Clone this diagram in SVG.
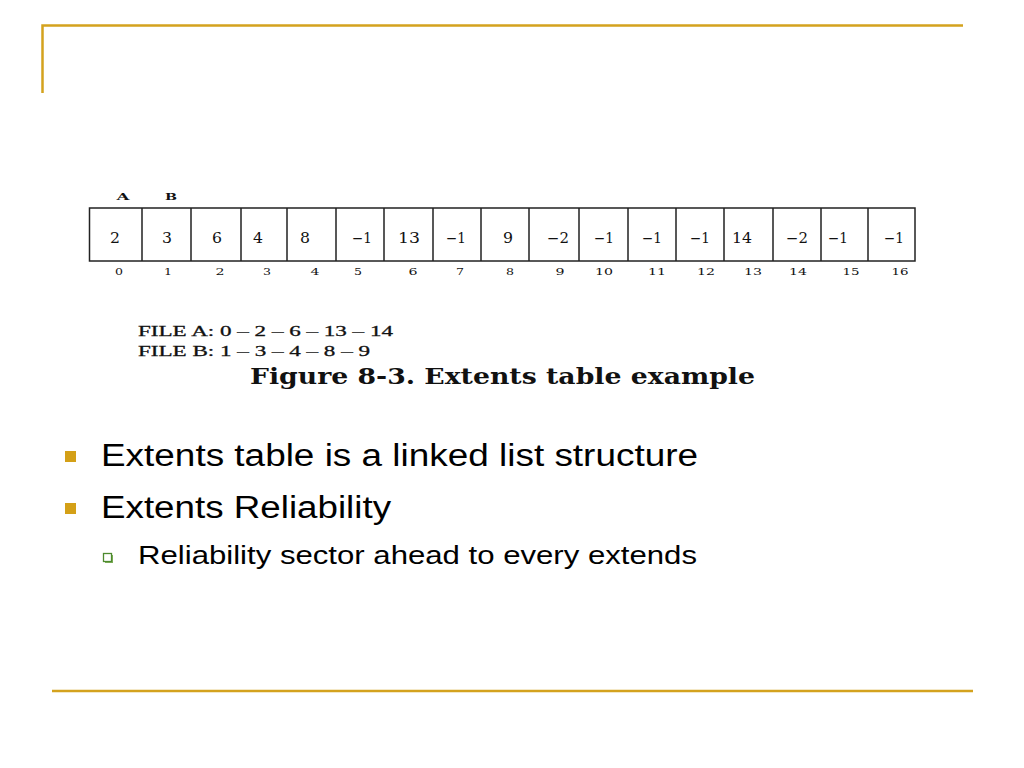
<svg xmlns="http://www.w3.org/2000/svg" width="1024" height="768" viewBox="0 0 1024 768">
<style>
.rule{stroke:#D4A21E;stroke-width:2.5;fill:none}
.cell{fill:#fff;stroke:#222;stroke-width:1.5}
.v{font-family:"DejaVu Serif","Liberation Serif",serif;font-size:14px;fill:#111;text-anchor:middle}
.i{font-family:"DejaVu Serif","Liberation Serif",serif;font-size:10px;fill:#111;text-anchor:middle}
.cap{font-family:"Liberation Serif",serif;font-size:15px;fill:#111;stroke:#111;stroke-width:0.3}
.fig{font-family:"DejaVu Serif","Liberation Serif",serif;font-size:23px;font-weight:bold;fill:#111}
.b1{font-family:"Liberation Sans",Arial,sans-serif;font-size:31px;fill:#000}
.b2{font-family:"Liberation Sans",Arial,sans-serif;font-size:26px;fill:#000}
.sq{fill:#D4A017}
</style>
<g id="frame">
<path class="rule" d="M42.5,93 V25.5 H963"/>
<line class="rule" x1="52" y1="691" x2="973" y2="691"/>
</g>
<g id="table">
<rect class="cell" x="89.5" y="208" width="825.5" height="53"/>
<path stroke="#222" stroke-width="1.5" fill="none" d="M142,208V261M191,208V261M241,208V261M287,208V261M336,208V261M384,208V261M433,208V261M481,208V261M529,208V261M579,208V261M628,208V261M676,208V261M724,208V261M773,208V261M821,208V261M868,208V261"/>
<text class="i" x="123" y="200" font-size="11" font-weight="bold" textLength="13" lengthAdjust="spacingAndGlyphs">A</text>
<text class="i" x="171" y="200" font-size="11" font-weight="bold" textLength="12" lengthAdjust="spacingAndGlyphs">B</text>
<g class="v">
<text x="115" y="243" textLength="10" lengthAdjust="spacingAndGlyphs">2</text>
<text x="167" y="243" textLength="10" lengthAdjust="spacingAndGlyphs">3</text>
<text x="217" y="243" textLength="10" lengthAdjust="spacingAndGlyphs">6</text>
<text x="258" y="243" textLength="10" lengthAdjust="spacingAndGlyphs">4</text>
<text x="305" y="243" textLength="10" lengthAdjust="spacingAndGlyphs">8</text>
<text x="362" y="243" textLength="20" lengthAdjust="spacingAndGlyphs">−1</text>
<text x="409" y="243" textLength="22" lengthAdjust="spacingAndGlyphs">13</text>
<text x="456" y="243" textLength="20" lengthAdjust="spacingAndGlyphs">−1</text>
<text x="508" y="243" textLength="10" lengthAdjust="spacingAndGlyphs">9</text>
<text x="558" y="243" textLength="22" lengthAdjust="spacingAndGlyphs">−2</text>
<text x="604" y="243" textLength="20" lengthAdjust="spacingAndGlyphs">−1</text>
<text x="652" y="243" textLength="20" lengthAdjust="spacingAndGlyphs">−1</text>
<text x="700" y="243" textLength="20" lengthAdjust="spacingAndGlyphs">−1</text>
<text x="742" y="243" textLength="20" lengthAdjust="spacingAndGlyphs">14</text>
<text x="797" y="243" textLength="22" lengthAdjust="spacingAndGlyphs">−2</text>
<text x="838" y="243" textLength="20" lengthAdjust="spacingAndGlyphs">−1</text>
<text x="894" y="243" textLength="20" lengthAdjust="spacingAndGlyphs">−1</text>
</g>
<g class="i">
<text x="119" y="275" textLength="8" lengthAdjust="spacingAndGlyphs">0</text>
<text x="168" y="275" textLength="8" lengthAdjust="spacingAndGlyphs">1</text>
<text x="220" y="275" textLength="9" lengthAdjust="spacingAndGlyphs">2</text>
<text x="267" y="275" textLength="8" lengthAdjust="spacingAndGlyphs">3</text>
<text x="315" y="275" textLength="9" lengthAdjust="spacingAndGlyphs">4</text>
<text x="358" y="275" textLength="8" lengthAdjust="spacingAndGlyphs">5</text>
<text x="413" y="275" textLength="9" lengthAdjust="spacingAndGlyphs">6</text>
<text x="460" y="275" textLength="8" lengthAdjust="spacingAndGlyphs">7</text>
<text x="510" y="275" textLength="8" lengthAdjust="spacingAndGlyphs">8</text>
<text x="560" y="275" textLength="9" lengthAdjust="spacingAndGlyphs">9</text>
<text x="604" y="275" textLength="18" lengthAdjust="spacingAndGlyphs">10</text>
<text x="657" y="275" textLength="18" lengthAdjust="spacingAndGlyphs">11</text>
<text x="706" y="275" textLength="18" lengthAdjust="spacingAndGlyphs">12</text>
<text x="753" y="275" textLength="18" lengthAdjust="spacingAndGlyphs">13</text>
<text x="798" y="275" textLength="18" lengthAdjust="spacingAndGlyphs">14</text>
<text x="851" y="275" textLength="17" lengthAdjust="spacingAndGlyphs">15</text>
<text x="900" y="275" textLength="17" lengthAdjust="spacingAndGlyphs">16</text>
</g>
</g>
<g id="caption">
<text class="cap" x="138" y="336" textLength="255" lengthAdjust="spacingAndGlyphs">FILE A: 0 – 2 – 6 – 13 – 14</text>
<text class="cap" x="138" y="356" textLength="232" lengthAdjust="spacingAndGlyphs">FILE B: 1 – 3 – 4 – 8 – 9</text>
<text class="fig" x="250" y="384" textLength="505" lengthAdjust="spacingAndGlyphs">Figure 8-3. Extents table example</text>
</g>
<g id="bullets">
<rect class="sq" x="65" y="451" width="11" height="11"/>
<text class="b1" x="101" y="466" textLength="597" lengthAdjust="spacingAndGlyphs">Extents table is a linked list structure</text>
<rect class="sq" x="65" y="503" width="11" height="11"/>
<text class="b1" x="101" y="518" textLength="290" lengthAdjust="spacingAndGlyphs">Extents Reliability</text>
<rect x="104" y="554" width="8" height="8" fill="#7fae5a" transform="translate(1,1)"/>
<rect x="103.5" y="553.5" width="8" height="8" fill="#fff" stroke="#4d8a2e" stroke-width="1.3"/>
<text class="b2" x="138" y="564" textLength="559" lengthAdjust="spacingAndGlyphs">Reliability sector ahead to every extends</text>
</g>
</svg>
